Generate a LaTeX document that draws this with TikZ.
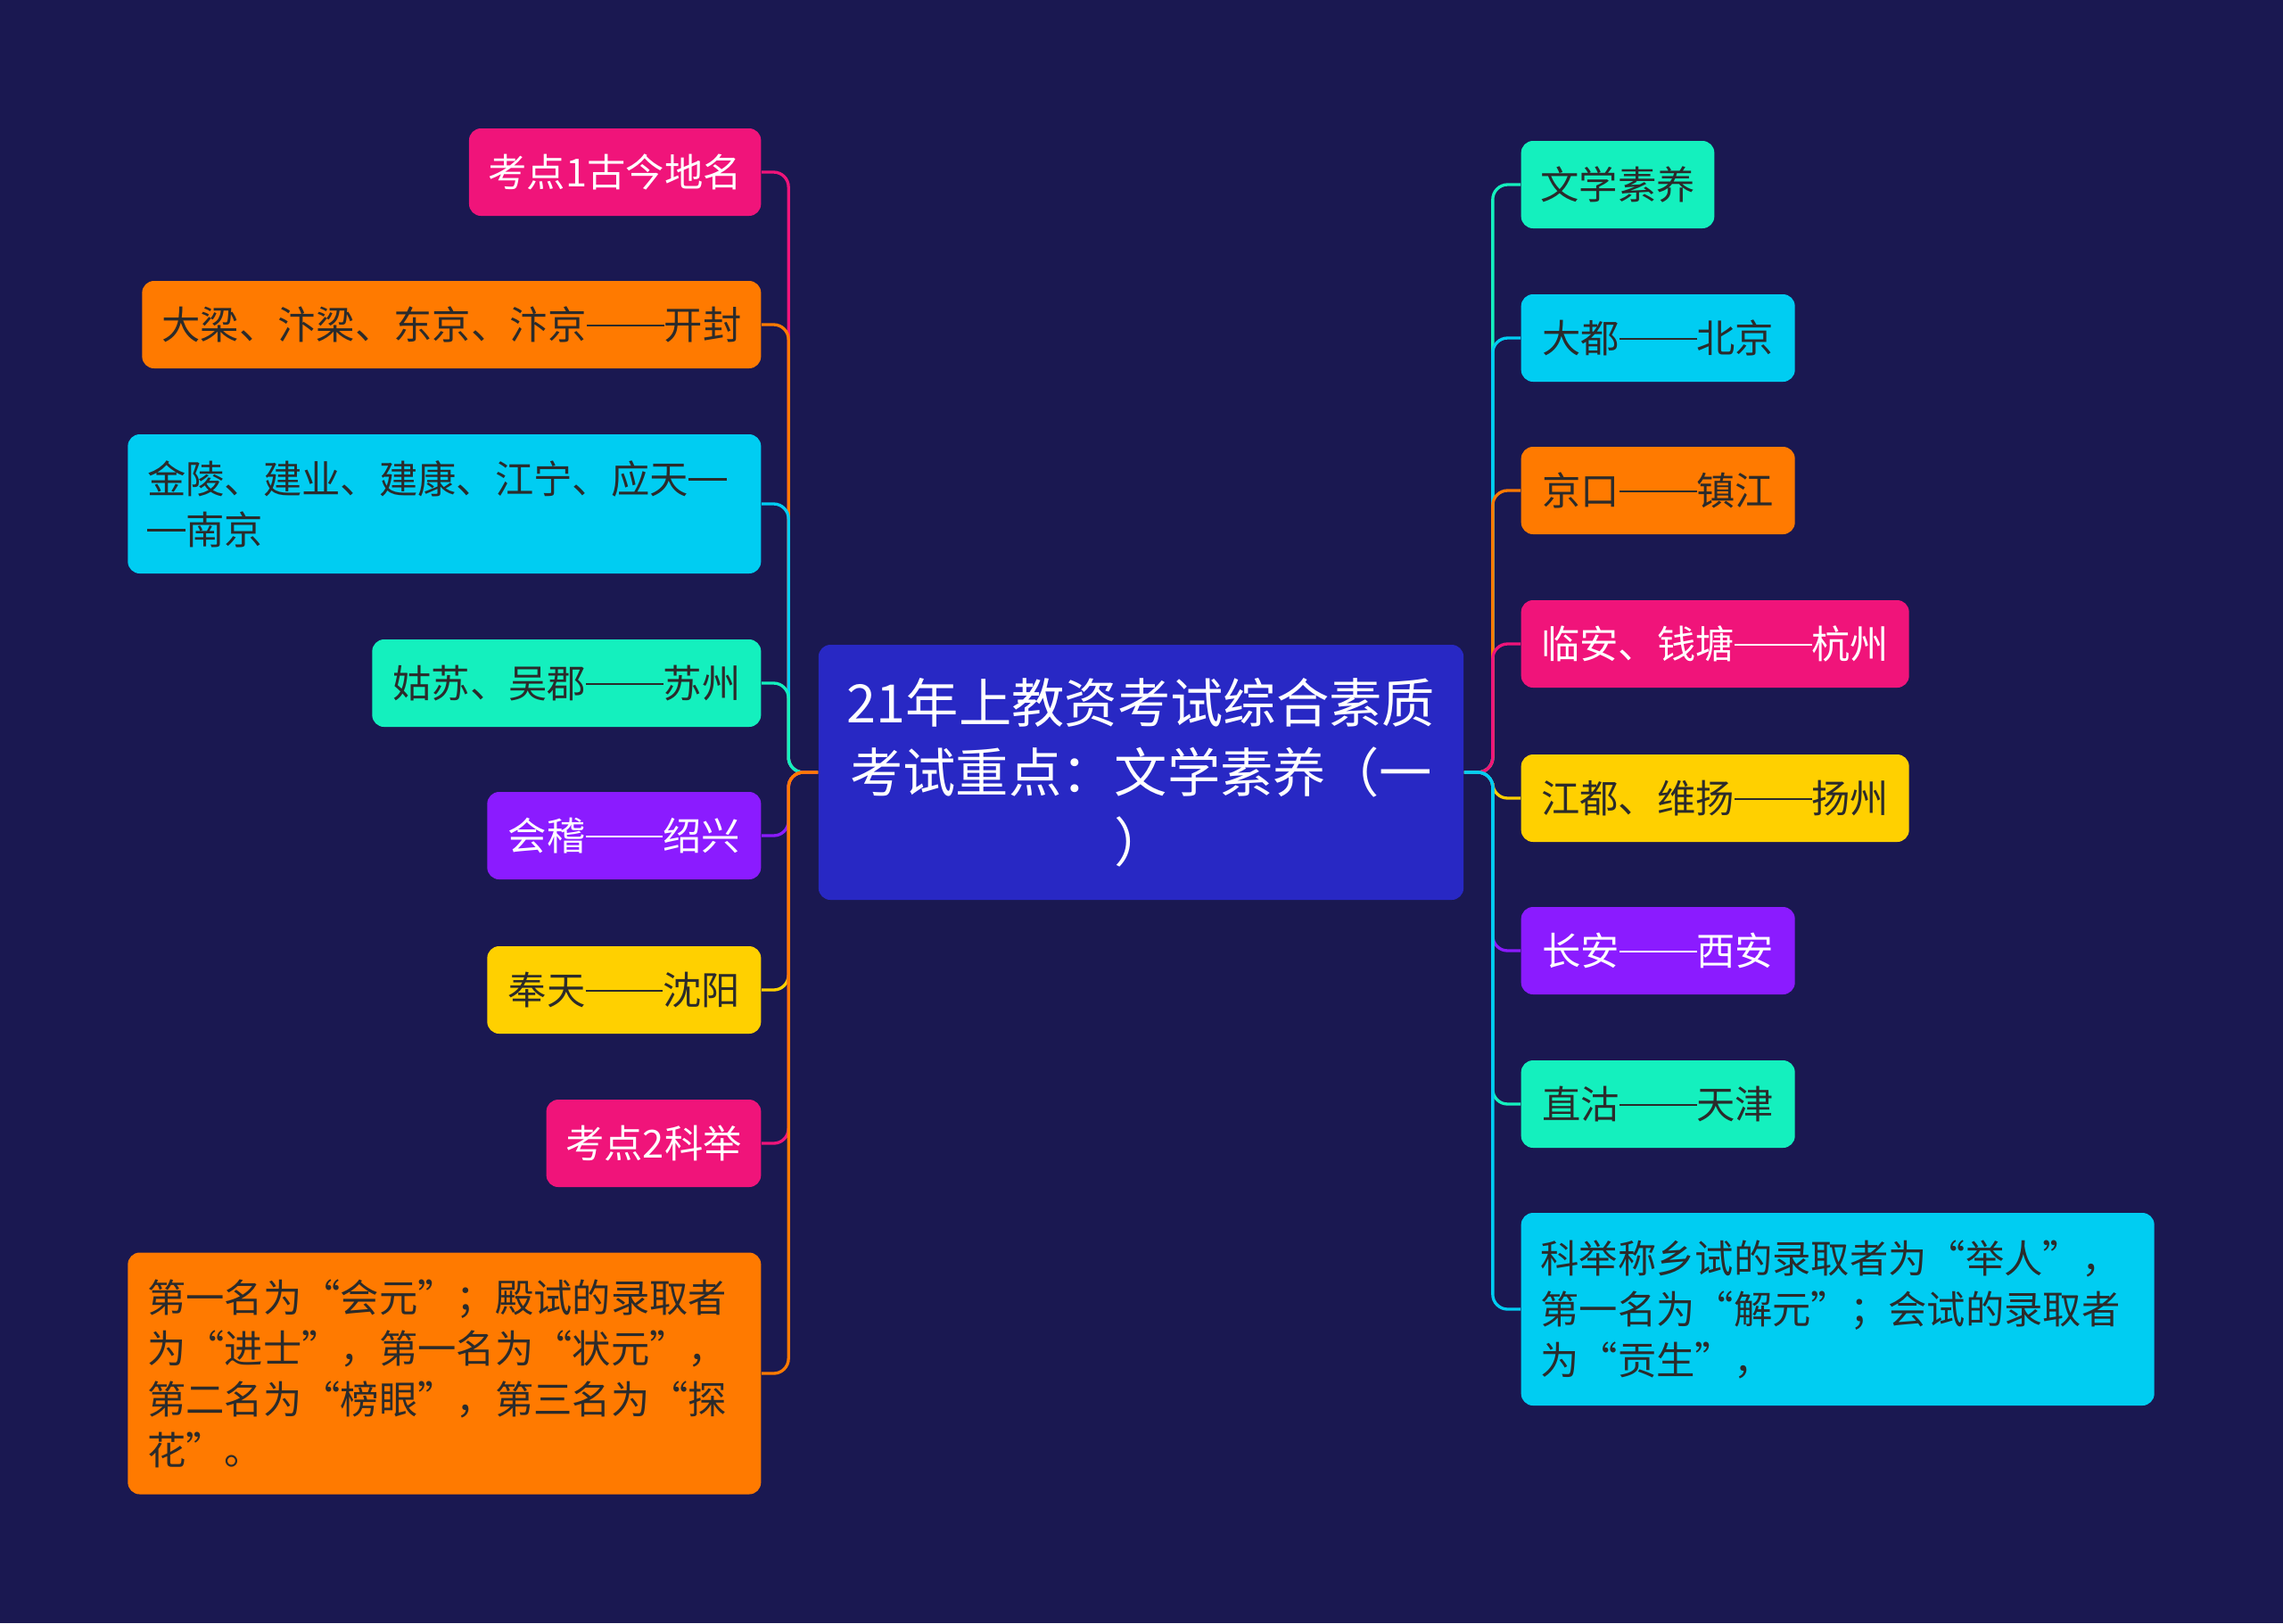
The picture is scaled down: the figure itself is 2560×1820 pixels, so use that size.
\documentclass[tikz,border=0pt]{standalone}
\usepackage{fontspec}
\newfontfamily\cjk{Noto Sans CJK SC}
\newcommand\dd{\rule[0.33em]{2em}{0.06em}}
\newcommand\sd{\rule[0.33em]{1em}{0.06em}}
\definecolor{bg}{HTML}{1A1851}
\definecolor{cbox}{HTML}{2828C4}
\definecolor{cpink}{HTML}{F0147A}
\definecolor{corange}{HTML}{FF7A00}
\definecolor{ccyan}{HTML}{00CDF2}
\definecolor{cgreen}{HTML}{14F0BE}
\definecolor{cpurple}{HTML}{8B1BFF}
\definecolor{cyellow}{HTML}{FFD000}
\definecolor{dark}{HTML}{2B2B2B}
\tikzset{
  leaf/.style={rounded corners=4pt, inner xsep=6.5pt, inner ysep=0pt, minimum height=29.4pt,
    font=\cjk\fontsize{13}{17.1}\selectfont, text=dark},
  lblock/.style={leaf, align=left},
  conn/.style={line width=1pt, rounded corners=5pt},
  hub/.style={fill=cbox, rounded corners=4pt, inner xsep=6pt, inner ysep=0pt, text=white,
    minimum width=216.9pt, minimum height=85.8pt, text width=205pt, align=center,
    font=\cjk\fontsize{17.8}{23.4}\selectfont}
}
\begin{document}
\begin{tikzpicture}[x=0.3pt,y=-0.3pt]
\path[fill=bg] (0,0) rectangle (2560,1820);
\node[hub] (C) at (1279.5,866) {21年上教资考试综合素质\\考试重点：文学素养（一\\）};

% left
\node[leaf, fill=cpink, text=white, minimum width=97.5pt, anchor=east] (L1) at (854,193) {考点1古今地名};
\node[leaf, fill=corange, minimum width=208.2pt, anchor=east] (L2) at (854,364) {大梁、汴梁、东京、汴京\dd 开封};
\node[lblock, fill=ccyan, text width=200pt, minimum height=46.8pt, anchor=east] (L3) at (854,565) {金陵、建业、建康、江宁、应天\sd\\\sd 南京};
\node[leaf, fill=cgreen, minimum width=130.8pt, anchor=east] (L4) at (854,766) {姑苏、吴郡\dd 苏州};
\node[leaf, fill=cpurple, text=white, minimum width=92.1pt, anchor=east] (L5) at (854,937) {会稽\dd 绍兴};
\node[leaf, fill=cyellow, minimum width=92.1pt, anchor=east] (L6) at (854,1110) {奉天\dd 沈阳};
\node[leaf, fill=cpink, text=white, minimum width=71.4pt, anchor=east] (L7) at (854,1282) {考点2科举};
\node[lblock, fill=corange, text width=200pt, minimum height=81.3pt, anchor=east] (L8) at (854,1540) {第一名为“会元”；殿试的录取者\\为“进士”，第一名为“状元”，\\第二名为“榜眼”，第三名为“探\\花”。};

% right
\node[leaf, fill=cgreen, minimum width=63.9pt, anchor=west] (R1) at (1705,207) {文学素养};
\node[leaf, fill=ccyan, minimum width=92.1pt, anchor=west] (R2) at (1705,379) {大都\dd 北京};
\node[leaf, fill=corange, minimum width=92.1pt, anchor=west] (R3) at (1705,550) {京口\dd 镇江};
\node[leaf, fill=cpink, text=white, minimum width=130.5pt, anchor=west] (R4) at (1705,722) {临安、钱塘\dd 杭州};
\node[leaf, fill=cyellow, minimum width=130.5pt, anchor=west] (R5) at (1705,895) {江都、维扬\dd 扬州};
\node[leaf, fill=cpurple, text=white, minimum width=92.1pt, anchor=west] (R6) at (1705,1066) {长安\dd 西安};
\node[leaf, fill=cgreen, minimum width=92.1pt, anchor=west] (R7) at (1705,1238) {直沽\dd 天津};
\node[lblock, fill=ccyan, text width=200pt, minimum height=64.8pt, anchor=west] (R8) at (1705,1468) {科举称乡试的录取者为“举人”，\\第一名为“解元”；会试的录取者\\为“贡生”，};

\coordinate (LT) at ([xshift=-9.9pt]C.west);
\coordinate (RT) at ([xshift=9.6pt]C.east);
\foreach \n/\c in {L1/cpink,L2/corange,L3/ccyan,L4/cgreen,L5/cpurple,L6/cyellow,L7/cpink,L8/corange}
  \draw[conn,\c] (C.west) -- (LT) |- (\n.east);
\foreach \n/\c in {R1/cgreen,R2/ccyan,R3/corange,R4/cpink,R5/cyellow,R6/cpurple,R7/cgreen,R8/ccyan}
  \draw[conn,\c] (C.east) -- (RT) |- (\n.west);
\end{tikzpicture}
\end{document}
